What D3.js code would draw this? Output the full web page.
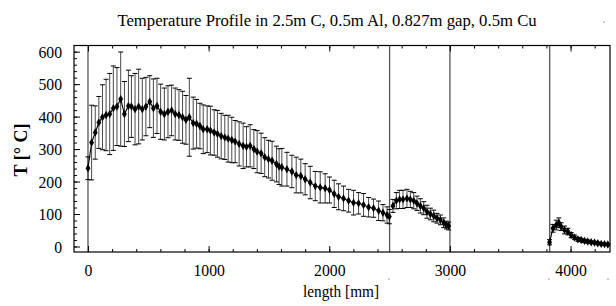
<!DOCTYPE html>
<html><head><meta charset="utf-8">
<script src="https://cdn.jsdelivr.net/npm/d3@7"></script>
<style>body{margin:0;background:#fff}svg{display:block}</style>
</head><body><svg id="c" width="616" height="306"></svg>
<script>
// ---- data ----
const titleText = "Temperature Profile in 2.5m C, 0.5m Al, 0.827m gap, 0.5m Cu";
const xLabel = "length [mm]";
const yLabel = "T [° C]";
const xTicks = [0, 1000, 2000, 3000, 4000];
const yTicks = [0, 100, 200, 300, 400, 500, 600];
const boundaries = [0, 2500, 3000, 3827];

const cX = [0,30,60,90,120,150,180,210,240,271,302,335,360,390,420,450,480,512,542,572,602,633,663,693,723,754,784,812,840,872,900,928,955,988,1015,1046,1073,1104,1134,1162,1192,1220,1253,1286,1314,1344,1375,1402,1435,1465,1496,1526,1562,1584,1607,1649,1690,1726,1764,1800,1842,1884,1925,1966,2002,2041,2077,2118,2160,2201,2243,2284,2326,2367,2409,2445,2479,2498];
const cT = [241,320,351,382,398,405,408,426,431,454,408,433,431,423,431,423,431,446,426,433,415,408,415,419,408,405,398,390,398,380,378,371,361,361,357,351,347,340,336,332,328,323,316,310,307,310,300,292,287,275,269,264,254,246,244,238,231,220,217,207,197,186,182,179,174,162,153,148,141,135,133,128,121,118,110,104,97,92];
const cE = [35,115,82,80,100,110,125,130,120,145,100,110,95,110,115,95,90,80,90,85,85,80,80,78,80,78,80,75,120,80,75,70,75,72,75,70,72,70,68,72,70,65,68,70,62,65,60,65,62,60,58,60,55,55,58,52,50,55,52,48,50,45,48,45,40,42,40,38,35,38,33,35,30,28,30,25,25,22];

const alX = [2528,2556,2583,2611,2644,2672,2700,2727,2755,2783,2810,2838,2866,2893,2921,2949,2971,2990];
const alT = [125,141,145,145,148,145,141,133,125,118,107,100,94,87,82,73,66,63];
const alE = [20,25,28,28,28,25,25,22,22,20,20,18,18,15,15,15,12,12];

const cuX = [3826,3854,3881,3903,3922,3950,3978,4005,4033,4061,4088,4116,4143,4171,4199,4226,4254,4282,4309];
const cuT = [13,56,66,73,61,51,46,35,28,22,20,17,15,13,12,10,8,7,6];
const cuE = [8,12,15,15,12,12,10,8,7,6,5,5,5,4,4,4,3,3,3];

// ---- layout ----
const FONT = "'Liberation Serif', 'Times New Roman', serif";
const L = 74, R = 610, T = 45.5, B = 252;
const svg = d3.select("#c");
const x = d3.scaleLinear().domain([-116, 4327]).range([L, R]);
const y = d3.scaleLinear().domain([-17, 619]).range([B, T]);

// title
svg.append("text").attr("x", 327).attr("y", 26).attr("text-anchor", "middle")
  .style("font-family", FONT).style("font-size", "16.7px").text(titleText);

// boundaries
svg.selectAll("line.bd").data(boundaries).join("line").attr("class","bd")
  .attr("x1", d => x(d)).attr("x2", d => x(d)).attr("y1", T).attr("y2", B)
  .attr("stroke", "#555").attr("stroke-width", 1.3);

// axes: bottom
const xMinor = d3.range(0, 4327, 200);
const gx = svg.append("g").attr("transform", `translate(0,${B})`);
gx.call(d3.axisBottom(x).tickValues(xMinor).tickSize(-3).tickFormat(""))
  .call(g => g.select(".domain").remove());
gx.append("g").call(d3.axisBottom(x).tickValues(xTicks).tickSize(-6).tickPadding(12).tickFormat(d3.format("d")))
  .call(g => g.select(".domain").remove())
  .call(g => g.selectAll("text").style("font-size", "17.5px").style("font-family", FONT).attr("fill","#000")
    .attr("transform", "scale(0.9,1)"));
// top ticks
const gt = svg.append("g").attr("transform", `translate(0,${T})`);
gt.call(d3.axisTop(x).tickValues(xMinor).tickSize(-3).tickFormat("")).call(g => g.select(".domain").remove());
gt.append("g").call(d3.axisTop(x).tickValues(xTicks).tickSize(-6).tickFormat("")).call(g => g.select(".domain").remove());

// left
const yMinor = d3.range(0, 620, 20);
const gy = svg.append("g").attr("transform", `translate(${L},0)`);
gy.call(d3.axisLeft(y).tickValues(yMinor).tickSize(-3).tickFormat("")).call(g => g.select(".domain").remove());
gy.append("g").call(d3.axisLeft(y).tickValues(yTicks).tickSize(-6).tickPadding(12).tickFormat(d3.format("d")))
  .call(g => g.select(".domain").remove())
  .call(g => g.selectAll("text").style("font-size", "17.5px").style("font-family", FONT).attr("fill","#000")
    .attr("transform", "translate(-12,0) scale(0.9,1)").attr("x", 0));

// frame
svg.append("rect").attr("x", L).attr("y", T).attr("width", R - L).attr("height", B - T)
  .attr("fill", "none").attr("stroke", "#000").attr("stroke-width", 1.2);

// labels
svg.append("text").attr("transform", "translate(341,297) scale(0.9,1)").attr("text-anchor", "middle")
  .style("font-family", FONT).style("font-size", "17px").text(xLabel);
svg.append("text").attr("transform", "translate(27,150) rotate(-90)").attr("text-anchor", "middle")
  .style("font-family", FONT).style("font-size", "18px").style("font-weight", "bold").text(yLabel);

// small stray dots from the original rendering
const dots = [[230, 22], [604, 22], [389, 279], [449, 279], [549, 279], [608, 279]];
svg.selectAll("circle.dot").data(dots).join("circle").attr("class","dot")
  .attr("cx", d => d[0]).attr("cy", d => d[1]).attr("r", 0.7).attr("fill", "#777");

// data series
const series = [[cX, cT, cE], [alX, alT, alE], [cuX, cuT, cuE]];
series.forEach(([xs, ts, es]) => {
  const pts = xs.map((v, i) => ({x: v, t: ts[i], e: es[i]}));
  const g = svg.append("g");
  g.selectAll("line.eb").data(pts).join("line").attr("class","eb")
    .attr("x1", d => x(d.x)).attr("x2", d => x(d.x))
    .attr("y1", d => y(d.t - d.e)).attr("y2", d => y(d.t + d.e))
    .attr("stroke", "#333").attr("stroke-width", 0.9);
  ["top","bot"].forEach(k => {
    g.selectAll("line.cap"+k).data(pts).join("line").attr("class","cap"+k)
      .attr("x1", d => x(d.x) - 2.5).attr("x2", d => x(d.x) + 2.5)
      .attr("y1", d => y(k==="top" ? d.t + d.e : d.t - d.e))
      .attr("y2", d => y(k==="top" ? d.t + d.e : d.t - d.e))
      .attr("stroke", "#000").attr("stroke-width", 1);
  });
  g.append("path").datum(pts).attr("fill","none").attr("stroke","#000").attr("stroke-width",1.1)
    .attr("d", d3.line().x(d => x(d.x)).y(d => y(d.t)));
  g.selectAll("path.m").data(pts).join("path").attr("class","m")
    .attr("transform", d => `translate(${x(d.x)},${y(d.t)})`)
    .attr("d", d3.symbol(d3.symbolDiamond, 20)).attr("fill", "#000");
});
</script></body></html>
